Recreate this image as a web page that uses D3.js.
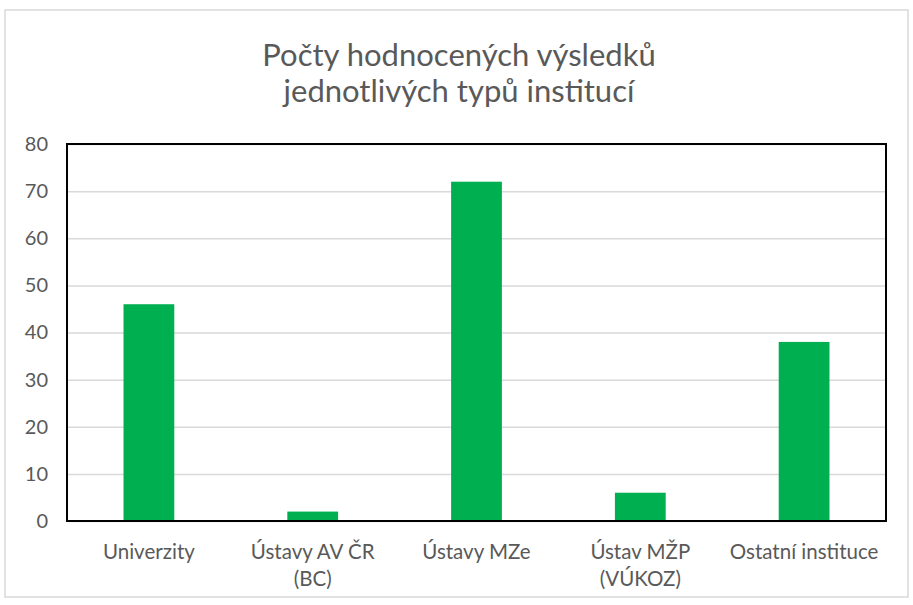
<!DOCTYPE html>
<html lang="cs">
<head>
    <meta charset="UTF-8">
    <title>Počty hodnocených výsledků</title>
    <script src="https://d3js.org/d3.v7.min.js"></script>
    <style>
        body { margin: 0; background: #fff; }
        svg { display: block; font-family: Lato, "Open Sans", sans-serif; }
    </style>
</head>
<body>
    <svg id="chart" width="913" height="605"></svg>
    <script>
        // data
        const categories = ["Univerzity", "Ústavy AV ČR (BC)", "Ústavy MZe", "Ústav MŽP (VÚKOZ)", "Ostatní instituce"];
        const labelLines = [["Univerzity"], ["Ústavy AV ČR", "(BC)"], ["Ústavy MZe"], ["Ústav MŽP", "(VÚKOZ)"], ["Ostatní instituce"]];
        const counts = [46, 2, 72, 6, 38];
        const yTicks = [0, 10, 20, 30, 40, 50, 60, 70, 80];
        const titleLines = ["Počty hodnocených výsledků", "jednotlivých typů institucí"];

        const svg = d3.select("#chart");
        const textColor = "#595959";
        const margin = { top: 144, right: 27, bottom: 84, left: 67 };
        const width = +svg.attr("width");
        const height = +svg.attr("height");
        const chartWidth = width - margin.left - margin.right;
        const chartHeight = height - margin.top - margin.bottom;

        // outer chart frame
        svg.append("rect")
            .attr("x", 5).attr("y", 10)
            .attr("width", 903).attr("height", 587)
            .attr("fill", "#fff")
            .attr("stroke", "#d9d9d9")
            .attr("stroke-width", 1.5);

        svg.append("text")
            .attr("x", 459)
            .attr("y", 66)
            .attr("text-anchor", "middle")
            .attr("fill", textColor)
            .style("font-size", "31px")
            .selectAll("tspan")
            .data(titleLines)
            .enter().append("tspan")
            .attr("x", 459)
            .attr("dy", (d, i) => i === 0 ? 0 : 36)
            .text(d => d);

        const g = svg.append("g")
            .attr("transform", `translate(${margin.left},${margin.top})`);

        const x = d3.scaleBand()
            .domain(categories)
            .range([0, chartWidth])
            .paddingInner(0.69)
            .paddingOuter(0.345);

        const y = d3.scaleLinear()
            .domain([0, 80])
            .range([chartHeight, 0]);

        // gridlines
        g.append("g")
            .call(d3.axisLeft(y).tickValues(yTicks).tickSize(-chartWidth).tickFormat(""))
            .call(a => a.select(".domain").remove())
            .selectAll("line")
            .attr("stroke", "#d9d9d9")
            .attr("stroke-width", 1.5);

        g.selectAll(".bar")
            .data(counts)
            .enter().append("rect")
            .attr("class", "bar")
            .attr("x", (d, i) => x(categories[i]))
            .attr("y", d => y(d))
            .attr("width", x.bandwidth())
            .attr("height", d => chartHeight - y(d))
            .attr("fill", "#00b050");

        // plot border
        g.append("rect")
            .attr("width", chartWidth)
            .attr("height", chartHeight)
            .attr("fill", "none")
            .attr("stroke", "#000")
            .attr("stroke-width", 2);

        // y axis labels
        const yAxis = g.append("g")
            .call(d3.axisLeft(y).tickValues(yTicks).tickSize(0).tickPadding(19));
        yAxis.select(".domain").remove();
        yAxis.selectAll("text")
            .attr("fill", textColor)
            .style("font-family", "Lato, sans-serif")
            .style("font-size", "20px");

        // x axis labels
        const xAxis = g.append("g")
            .attr("transform", `translate(0,${chartHeight})`)
            .call(d3.axisBottom(x).tickSize(0).tickFormat(""));
        xAxis.select(".domain").remove();
        xAxis.selectAll(".tick")
            .append("text")
            .attr("fill", textColor)
            .attr("text-anchor", "middle")
            .style("font-family", "Lato, sans-serif")
            .style("font-size", "20.5px")
            .selectAll("tspan")
            .data((d, i) => labelLines[i])
            .enter().append("tspan")
            .attr("x", 0)
            .attr("y", (d, i) => 38 + i * 27)
            .text(d => d);
    </script>
</body>
</html>
